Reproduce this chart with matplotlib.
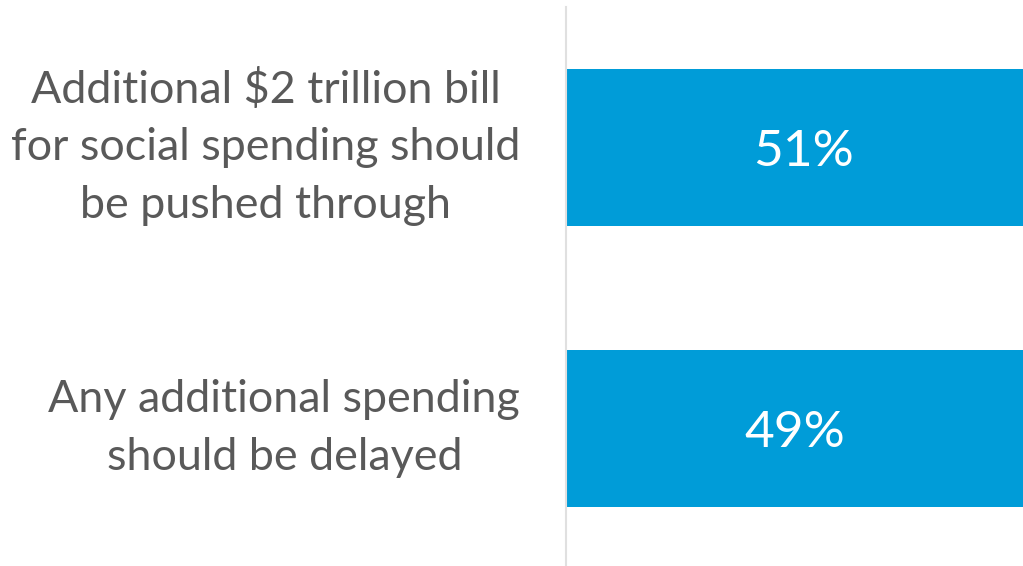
import matplotlib.pyplot as plt

# Data
labels = ["Additional $2 trillion bill\nfor social spending should\nbe pushed through",
          "Any additional spending\nshould be delayed"]
values = [51, 49]

bar_color = "#009CD8"
text_color = "#595959"

plt.rcParams['font.family'] = ['Lato', 'DejaVu Sans']

fig = plt.figure(figsize=(10.23, 5.66), dpi=100)
ax = fig.add_axes([566 / 1023, 0, 1 - 566 / 1023, 559 / 566])

ypos = list(range(len(values)))
ax.barh(ypos, values, height=0.56, color=bar_color)

# value labels inside bars
for y, v in zip(ypos, values):
    ax.text(v / 2, y, f"{v}%", ha='center', va='center_baseline', color='white', fontsize=37)

ax.set_xlim(0, 49)
ax.set_ylim(1.49, -0.5)

ax.set_yticks(ypos)
ax.set_yticklabels(labels, fontsize=32.3, color=text_color, multialignment='center',
                   linespacing=1.5, va='center')
ax.tick_params(axis='y', length=0, pad=33)
ax.set_xticks([])

for side in ['top', 'right', 'bottom']:
    ax.spines[side].set_visible(False)
ax.spines['left'].set_color('#E0E0E0')
ax.spines['left'].set_linewidth(1.5)

fig.savefig("out.png", dpi=100)
